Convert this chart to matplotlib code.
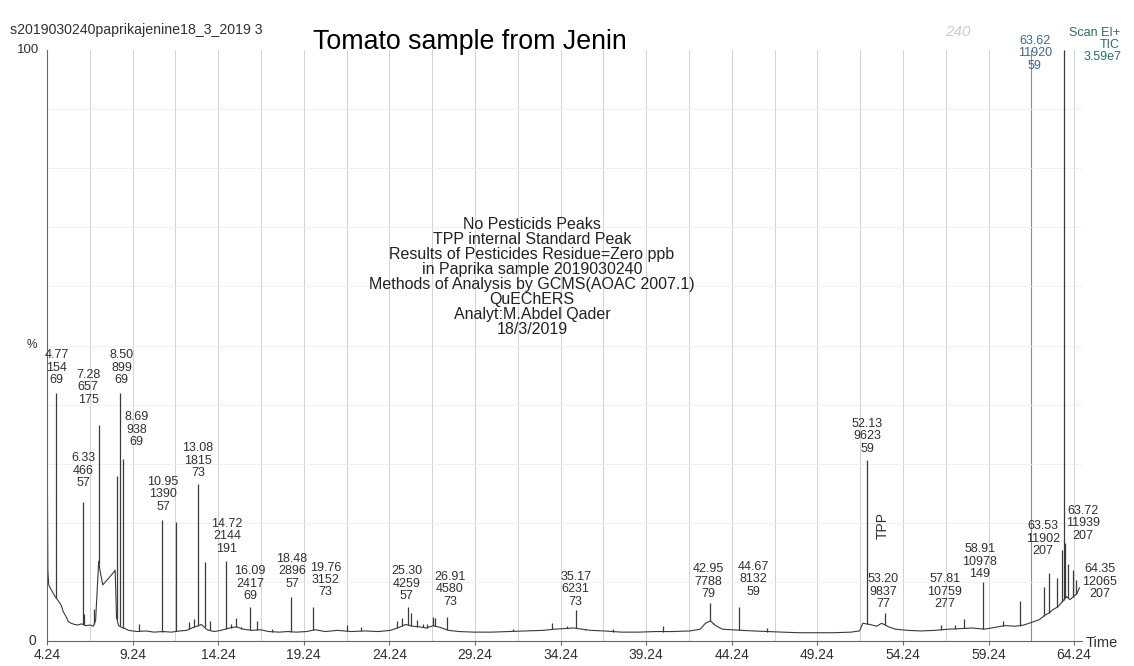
import numpy as np
import matplotlib
matplotlib.use('Agg')
import matplotlib.pyplot as plt

plt.rcParams['font.family'] = ['Liberation Sans', 'DejaVu Sans']

# baseline of the TIC trace (retention time in min, % of max)
base_time = [
    4.24, 4.26, 4.29, 4.34, 4.42, 4.52, 4.62, 4.72, 4.85, 4.97,
    5.08, 5.18, 5.28, 5.38, 5.48, 5.65, 5.85, 6.05, 6.25, 6.50,
    6.75, 6.95, 7.08, 7.18, 7.26, 7.36, 7.50, 7.65, 7.80, 7.95,
    8.10, 8.22, 8.30, 8.42, 8.60, 8.80, 9.00, 9.50, 10.0, 10.5,
    11.0, 11.5, 12.0, 12.4, 12.7, 13.0, 13.25, 13.6, 14.0, 14.4,
    14.9, 15.3, 15.7, 16.2, 16.7, 17.2, 17.8, 18.3, 18.8, 19.4,
    19.9, 20.5, 21.2, 22.0, 22.8, 23.6, 24.3, 24.8, 25.2, 25.6,
    26.0, 26.4, 26.8, 27.2, 27.7, 28.3, 29.2, 30.2, 31.2, 32.2,
    33.2, 33.9, 34.5, 35.0, 35.5, 36.0, 36.8, 37.8, 38.8, 39.8,
    40.8, 41.8, 42.4, 42.7, 43.0, 43.3, 43.7, 44.2, 44.8, 45.5,
    46.3, 47.2, 48.2, 49.2, 50.2, 51.2, 51.7, 51.9, 52.3, 52.7,
    53.0, 53.4, 53.8, 54.5, 55.3, 56.1, 56.9, 57.6, 58.3, 59.0,
    59.6, 60.2, 60.8, 61.3, 61.8, 62.2, 62.5, 62.8, 63.0, 63.3,
    63.5, 63.8, 64.0, 64.2, 64.4, 64.55]
base_level = [
    0.0, 29.0, 12.0, 9.5, 9.0, 8.5, 8.0, 7.5, 7.0, 6.5,
    6.0, 5.0, 4.5, 4.0, 3.3, 3.0, 2.8, 2.7, 2.9, 2.6,
    2.7, 2.5, 3.5, 9.0, 13.5, 11.5, 9.5, 10.0, 10.5, 11.0,
    11.5, 12.0, 4.0, 2.6, 2.3, 2.1, 1.8, 1.6, 1.7, 1.5,
    1.6, 1.5, 1.7, 1.8, 2.2, 2.5, 2.8, 1.9, 1.6, 1.8,
    2.2, 2.4, 2.0, 1.8, 1.9, 1.6, 1.5, 1.6, 1.5, 1.6,
    1.9, 1.6, 1.8, 1.6, 1.7, 1.6, 1.8, 2.3, 2.8, 2.5,
    2.4, 2.2, 2.6, 2.3, 1.8, 1.6, 1.5, 1.5, 1.6, 1.7,
    1.8, 2.0, 2.1, 2.2, 2.0, 1.8, 1.7, 1.5, 1.5, 1.6,
    1.6, 1.7, 2.0, 3.0, 3.4, 2.6, 2.0, 1.9, 1.8, 1.7,
    1.6, 1.5, 1.4, 1.4, 1.4, 1.5, 1.7, 3.0, 2.8, 2.5,
    3.0, 2.4, 2.0, 1.8, 1.7, 1.8, 2.0, 2.1, 2.2, 2.0,
    2.3, 2.6, 2.5, 2.7, 3.2, 3.6, 4.3, 4.8, 5.3, 5.8,
    6.5, 7.5, 7.0, 7.5, 8.0, 9.0]

# peaks (apex time, apex height %)
peak_time = [4.77, 6.33, 6.42, 7.00, 7.28, 8.33, 8.50, 8.69, 9.60, 10.95,
             11.77, 12.55, 12.85, 13.08, 13.45, 13.75, 14.72, 15.0, 15.3, 15.6,
             16.09, 16.5, 17.4, 18.48, 19.76, 21.76, 22.6, 24.67, 24.96, 25.30,
             25.48, 25.87, 26.18, 26.45, 26.80, 26.91, 27.59, 31.46, 33.72, 34.63,
             35.17, 35.67, 37.3, 40.24, 42.58, 42.95, 43.16, 44.67, 46.28, 52.13,
             53.20, 56.45, 57.3, 57.81, 58.91, 60.1, 61.08, 62.46, 62.75, 63.24,
             63.53, 63.62, 63.72, 63.9, 64.15, 64.35]
peak_height = [42.0, 23.5, 4.5, 5.4, 36.5, 28.0, 42.0, 30.8, 2.8, 20.5,
               20.2, 3.2, 3.8, 26.5, 13.3, 3.3, 13.6, 2.8, 3.9, 2.3,
               5.7, 3.4, 2.0, 7.5, 5.7, 2.7, 2.4, 3.3, 3.9, 5.8,
               4.7, 3.6, 2.8, 2.8, 4.1, 3.9, 4.1, 2.1, 3.0, 2.6,
               5.2, 2.1, 2.0, 2.5, 2.6, 6.5, 2.8, 5.8, 2.2, 30.6,
               4.7, 2.7, 2.7, 3.8, 10.0, 3.3, 6.7, 9.1, 11.5, 10.6,
               15.4, 100.0, 16.6, 13.0, 12.0, 10.3]

# peak annotations: retention time / scan / base ion
label_rt = ['4.77', '6.33', '7.28', '8.50', '8.69', '10.95', '13.08', '14.72',
            '16.09', '18.48', '19.76', '25.30', '26.91', '35.17', '42.95',
            '44.67', '52.13', '53.20', '57.81', '58.91', '63.53', '63.62',
            '63.72', '64.35']
label_scan = ['154', '466', '657', '899', '938', '1390', '1815', '2144',
              '2417', '2896', '3152', '4259', '4580', '6231', '7788',
              '8132', '9623', '9837', '10759', '10978', '11902', '11920',
              '11939', '12065']
label_ion = ['69', '57', '175', '69', '69', '57', '73', '191',
             '69', '57', '73', '57', '73', '73', '79',
             '59', '59', '77', '277', '149', '207', '59',
             '207', '207']

# where each annotation sits (x in min, bottom in %)
label_x = [4.81, 6.36, 6.65, 8.60, 9.48, 11.02, 13.06, 14.75,
           16.10, 18.55, 20.50, 25.25, 27.78, 35.12, 42.85,
           45.48, 52.14, 53.07, 56.69, 58.74, 62.42, 61.95,
           64.75, 65.75]
label_y = [43.1, 25.7, 39.8, 43.1, 32.6, 21.7, 27.4, 14.6,
           6.6, 8.7, 7.2, 6.6, 5.6, 5.6, 6.9,
           7.3, 31.5, 5.2, 5.2, 10.3, 14.2, 96.3,
           16.8, 6.9]

x_ticks = [4.24, 9.24, 14.24, 19.24, 24.24, 29.24, 34.24, 39.24,
           44.24, 49.24, 54.24, 59.24, 64.24]

note = ("No Pesticids Peaks\n"
        "TPP internal Standard Peak\n"
        "Results of Pesticides Residue=Zero ppb\n"
        "in Paprika sample 2019030240\n"
        "Methods of Analysis by GCMS(AOAC 2007.1)\n"
        "QuEChERS\n"
        "Analyt:M.Abdel Qader\n"
        "18/3/2019")

W, H = 1134, 666
fig = plt.figure(figsize=(W / 100, H / 100), dpi=100)
fig.patch.set_facecolor('white')


def fx(x):
    return x / W


def fy(y):
    return 1 - y / H


ax = fig.add_axes([fx(47), fy(641), fx(1082) - fx(47), fy(50) - fy(641)])
ax.set_xlim(4.24, 64.70)
ax.set_ylim(0, 100)

trace = '#3a3a3a'
txt = '#303030'

# paper grid of the printout
for t in np.arange(6.74, 64.3, 2.5):
    ax.axvline(t, color='#d2d2d2', lw=0.7, zorder=0)
ax.axvline(61.74, color='#8c8c8c', lw=0.8, zorder=0)
for v in range(10, 100, 10):
    ax.axhline(v, color='#efefef', lw=0.6, zorder=0)

ax.plot(base_time, base_level, color=trace, lw=0.8)
foot = np.interp(peak_time, base_time, base_level)
ax.vlines(peak_time, foot, peak_height, color=trace, lw=0.9)

for i in range(len(label_rt)):
    col = '#3f6a86' if label_rt[i] == '63.62' else txt
    ax.text(label_x[i], label_y[i],
            f"{label_rt[i]}\n{label_scan[i]}\n{label_ion[i]}",
            ha='center', va='bottom', fontsize=9, color=col,
            linespacing=1.05, clip_on=False)

ax.text(53.07, 19.6, 'TPP', rotation=90, ha='center', va='center',
        fontsize=10, color=txt)

for s in ['top', 'right']:
    ax.spines[s].set_visible(False)
for s in ['left', 'bottom']:
    ax.spines[s].set_color('#666666')
    ax.spines[s].set_linewidth(0.8)

ax.set_yticks([])
ax.set_xticks(x_ticks)
ax.set_xticklabels([f"{t:.2f}" for t in x_ticks])
ax.tick_params(axis='x', length=3, color='#666666', labelsize=10,
               labelcolor=txt, pad=2)

fig.text(fx(10), fy(30), 's2019030240paprikajenine18_3_2019 3',
         fontsize=10.2, va='center', color=txt)
fig.text(fx(313), fy(42), 'Tomato sample from Jenin', fontsize=19.3,
         va='center', color='black')
fig.text(fx(945), fy(32), '240', fontsize=11, va='center',
         color='#cccccc', style='italic')
fig.text(fx(532), fy(277), note, ha='center', va='center', fontsize=11.5,
         linespacing=1.0, color='#222222')
fig.text(fx(39), fy(50), '100', ha='right', va='center', fontsize=9.5,
         color=txt)
fig.text(fx(32), fy(345), '%', ha='center', va='center', fontsize=8.5,
         color=txt)
fig.text(fx(32), fy(641), '0', ha='center', va='center', fontsize=10,
         color=txt)
fig.text(fx(1086), fy(643), 'Time', ha='left', va='center', fontsize=10.5,
         color=txt)

teal = '#2f6b70'
fig.text(fx(1120), fy(33), 'Scan EI+', ha='right', va='center', fontsize=9,
         color=teal)
fig.text(fx(1120), fy(45), 'TIC', ha='right', va='center', fontsize=9,
         color=teal)
fig.text(fx(1122), fy(57), '3.59e7', ha='right', va='center', fontsize=9,
         color=teal)

fig.savefig('out.png', dpi=100)
